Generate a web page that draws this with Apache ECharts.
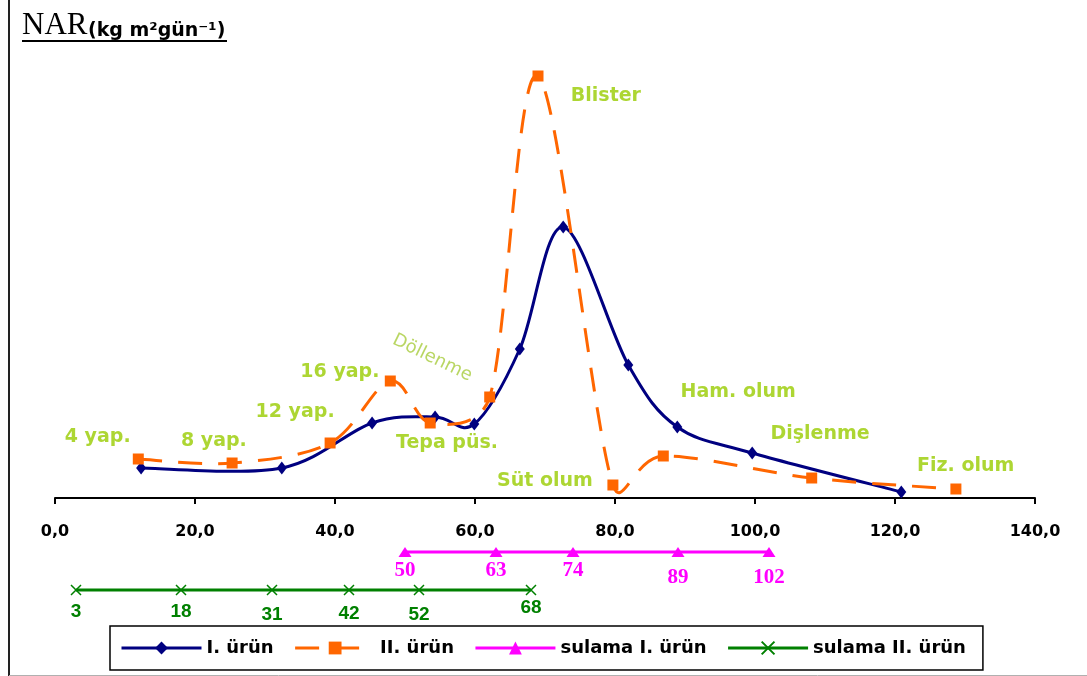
<!DOCTYPE html>
<html>
<head>
<meta charset="utf-8">
<script src="https://cdn.jsdelivr.net/npm/echarts@6/dist/echarts.min.js"></script>
<style>
  html, body { margin: 0; padding: 0; background: #fff; }
  #chart { width: 1087px; height: 676px; }
</style>
</head>
<body>
<div id="chart"></div>
<script>
// NAR of the two crops against days after sowing
const urun1Days = [12.3, 32.4, 45.3, 54.3, 59.9, 66.4, 72.6, 81.9, 88.9, 99.6, 120.9];
const urun1Nar  = [1.5, 1.5, 3.75, 4.05, 3.7, 7.45, 13.55, 6.65, 3.55, 2.25, 0.3];
const urun2Days = [11.9, 25.3, 39.3, 47.9, 53.6, 62.1, 69.0, 79.7, 86.9, 108.1, 128.7];
const urun2Nar  = [1.95, 1.75, 2.75, 5.85, 3.75, 5.05, 21.1, 0.65, 2.1, 1.0, 0.45];

// irrigation days, each crop on its own row under the day axis
const sulama1Days = [50, 63, 74, 89, 102];
const sulama2Days = [3, 18, 31, 42, 52, 68];
const sulama1Row = -2.7;
const sulama2Row = -4.6;

// growth stage notes: [day, NAR level, text]
const stageNotes = [
  [6.1, 3.05, '4 yap.'],
  [22.7, 2.85, '8 yap.'],
  [34.3, 4.3, '12 yap.'],
  [40.7, 6.3, '16 yap.'],
  [53.9, 7.0, 'Döllenme'],
  [56.0, 2.75, 'Tepa püs.'],
  [78.7, 20.1, 'Blister'],
  [70.0, 0.85, 'Süt olum'],
  [97.6, 5.3, 'Ham. olum'],
  [109.3, 3.2, 'Dişlenme'],
  [130.1, 1.6, 'Fiz. olum']
];

// day axis ticks
const dayTicks = [0, 20, 40, 60, 80, 100, 120, 140];

const zip = (xs, ys) => xs.map((x, i) => [x, ys[i]]);
const row = (xs, y) => xs.map(x => [x, y]);

// small per-label vertical nudges for the irrigation day numbers
const sulama1Nudge = { 89: 7, 102: 7 };
const sulama2Nudge = { 68: -4, 31: 3, 42: 2, 52: 3 };

const stageGreen = '#99CC00';
const boldSans = 'DejaVu Sans';
const navy = '#000080';
const orange = '#FF6600';
const magenta = '#FF00FF';
const green = '#008000';
const orangeDash = [24, 16];

// Spreadsheet-style smoothed path through pixel points: each tangent follows
// the neighbour chord, its handle is a sixth of that chord but never more
// than half of the adjacent segment.
function smoothPath(pts) {
  const n = pts.length;
  const cps = pts.map((p, i) => {
    const prev = pts[i - 1] || p;
    const next = pts[i + 1] || p;
    const vx = next[0] - prev[0], vy = next[1] - prev[1];
    const d02 = Math.hypot(vx, vy) || 1;
    const ux = vx / d02, uy = vy / d02;
    const d01 = Math.hypot(p[0] - prev[0], p[1] - prev[1]);
    const d12 = Math.hypot(next[0] - p[0], next[1] - p[1]);
    const hb = Math.min(d02 / 6, d01 / 2);
    const ha = Math.min(d02 / 6, d12 / 2);
    return {
      before: [p[0] - ux * hb, p[1] - uy * hb],
      after: [p[0] + ux * ha, p[1] + uy * ha]
    };
  });
  let d = 'M' + pts[0][0] + ',' + pts[0][1];
  for (let i = 0; i < n - 1; i++) {
    const a = cps[i].after, b = cps[i + 1].before, e = pts[i + 1];
    d += ' C' + a[0] + ',' + a[1] + ' ' + b[0] + ',' + b[1] + ' ' + e[0] + ',' + e[1];
  }
  return d;
}

function curveSeries(id, days, nar, style) {
  return {
    id: id,
    type: 'custom',
    silent: true,
    clip: false,
    z: style.z,
    data: [[days[0], nar[0]]],
    encode: { x: 0, y: 1 },
    renderItem: (params, api) => ({
      type: 'path',
      shape: { pathData: smoothPath(zip(days, nar).map(p => api.coord(p))) },
      style: { fill: 'none', stroke: style.color, lineWidth: 3, lineDash: style.dash || null }
    })
  };
}

const chart = echarts.init(document.getElementById('chart'), null, { renderer: 'canvas' });

chart.setOption({
  backgroundColor: '#ffffff',
  animation: false,
  grid: { left: 55, right: 52, top: 58, bottom: 178, containLabel: false },
  xAxis: {
    type: 'value',
    min: dayTicks[0],
    max: dayTicks[dayTicks.length - 1],
    interval: dayTicks[1] - dayTicks[0],
    axisLine: { show: true, onZero: false, lineStyle: { color: '#000', width: 2 } },
    axisTick: { show: true, length: 6, lineStyle: { color: '#000', width: 2 } },
    splitLine: { show: false },
    axisLabel: {
      margin: 26,
      color: '#000',
      fontFamily: boldSans,
      fontWeight: 'bold',
      fontSize: 16,
      formatter: v => v.toFixed(1).replace('.', ',')
    }
  },
  yAxis: {
    type: 'value',
    min: 0,
    max: 22,
    show: false,
    splitLine: { show: false }
  },
  legend: {
    data: [
      { name: 'I. ürün', lineStyle: { color: navy, width: 3, opacity: 1, type: 'solid' } },
      { name: 'II. ürün', lineStyle: { color: orange, width: 3, opacity: 1, type: orangeDash } },
      { name: 'sulama I. ürün', lineStyle: { color: magenta, width: 3, opacity: 1 } },
      { name: 'sulama II. ürün', lineStyle: { color: green, width: 3, opacity: 1 } }
    ],
    left: 110,
    top: 626,
    orient: 'horizontal',
    padding: [13, 17, 13, 10],
    itemGap: 20,
    itemWidth: 80,
    itemHeight: 16,
    borderColor: '#000',
    borderWidth: 1.5,
    borderRadius: 0,
    textStyle: { color: '#000', fontFamily: boldSans, fontWeight: 'bold', fontSize: 18 }
  },
  graphic: [
    { type: 'line', shape: { x1: 9, y1: 0, x2: 9, y2: 676 }, style: { stroke: '#222', lineWidth: 2 } },
    { type: 'line', shape: { x1: 9, y1: 675.5, x2: 1087, y2: 675.5 }, style: { stroke: '#b0b0b0', lineWidth: 1 } },
    {
      type: 'text',
      style: { x: 22, y: 26, text: 'NAR', font: '31px "Liberation Serif"', fill: '#000', verticalAlign: 'middle' }
    },
    {
      type: 'text',
      style: { x: 88, y: 31, text: '(kg m²gün⁻¹)', font: 'bold 19px "DejaVu Sans"', fill: '#000', verticalAlign: 'middle' }
    },
    { type: 'line', shape: { x1: 22, y1: 41, x2: 227, y2: 41 }, style: { stroke: '#000', lineWidth: 2 } }
  ],
  series: [
    curveSeries('urun1-curve', urun1Days, urun1Nar, { color: navy, z: 3 }),
    curveSeries('urun2-curve', urun2Days, urun2Nar, { color: orange, dash: orangeDash, z: 4 }),
    {
      name: 'I. ürün',
      type: 'line',
      data: zip(urun1Days, urun1Nar),
      symbol: 'diamond',
      symbolSize: [10, 13],
      lineStyle: { color: navy, width: 3, opacity: 0 },
      itemStyle: { color: navy },
      clip: false,
      z: 5
    },
    {
      name: 'II. ürün',
      type: 'line',
      data: zip(urun2Days, urun2Nar),
      symbol: 'rect',
      symbolSize: 11,
      lineStyle: { color: orange, width: 3, opacity: 0, type: orangeDash },
      itemStyle: { color: orange },
      clip: false,
      z: 6
    },
    {
      name: 'sulama I. ürün',
      type: 'line',
      clip: false,
      data: row(sulama1Days, sulama1Row).map(p => ({
        value: p,
        label: { offset: [0, sulama1Nudge[p[0]] || 0] }
      })),
      symbol: 'triangle',
      symbolSize: [13, 10],
      lineStyle: { color: magenta, width: 3 },
      itemStyle: { color: magenta },
      label: {
        show: true,
        position: 'bottom',
        distance: 3,
        color: magenta,
        fontFamily: 'Liberation Serif',
        fontWeight: 'bold',
        fontSize: 21,
        formatter: p => String(p.value[0])
      },
      z: 3
    },
    {
      name: 'sulama II. ürün',
      type: 'line',
      clip: false,
      data: row(sulama2Days, sulama2Row).map(p => ({
        value: p,
        label: { offset: [0, sulama2Nudge[p[0]] || 0] }
      })),
      symbol: 'path://M0,0L10,10M10,0L0,10',
      symbolSize: 10,
      lineStyle: { color: green, width: 3 },
      itemStyle: { color: 'rgba(0,0,0,0)', borderColor: green, borderWidth: 1.5 },
      label: {
        show: true,
        position: 'bottom',
        distance: 7,
        color: green,
        fontFamily: 'Liberation Sans',
        fontWeight: 'bold',
        fontSize: 19,
        formatter: p => String(p.value[0])
      },
      z: 3
    },
    {
      name: 'stages',
      type: 'scatter',
      symbolSize: 0,
      silent: true,
      clip: false,
      data: stageNotes.map(n => n[2] === 'Döllenme'
        ? { value: n, label: { rotate: -26, fontWeight: 'normal', fontSize: 18, color: '#a8cc3c' } }
        : { value: n }),
      label: {
        show: true,
        position: 'inside',
        color: stageGreen,
        fontFamily: boldSans,
        fontWeight: 'bold',
        fontSize: 19,
        formatter: p => p.value[2]
      },
      z: 7
    }
  ]
});
</script>
</body>
</html>
